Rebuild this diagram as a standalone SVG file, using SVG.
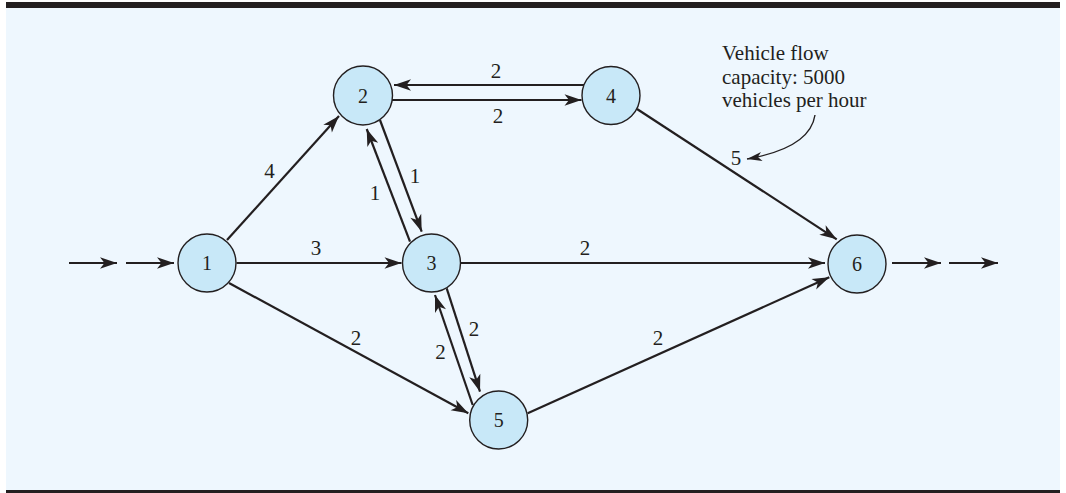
<svg xmlns="http://www.w3.org/2000/svg" width="1066" height="493" viewBox="0 0 1066 493">
<defs>
<style>
.node circle{fill:#c8e8f8;stroke:#231f20;stroke-width:1.4}
.node text{font-family:"Liberation Serif","Times New Roman",serif;font-size:20px;fill:#231f20;text-anchor:middle}
.edge{stroke:#231f20;stroke-width:2.2;fill:none;marker-end:url(#ah)}
.lbl{font-family:"Liberation Serif","Times New Roman",serif;font-size:21px;fill:#231f20;text-anchor:middle}
.note{font-family:"Liberation Serif","Times New Roman",serif;font-size:21px;fill:#231f20}
</style>
<marker id="ah" viewBox="-18 -7 20 14" markerWidth="20" markerHeight="14" refX="0" refY="0" orient="auto" markerUnits="userSpaceOnUse">
<path d="M0,0 L-17,-5.8 L-12.5,0 L-17,5.8 Z" fill="#231f20"/>
</marker>
<marker id="ah2" viewBox="-16 -6 18 12" markerWidth="18" markerHeight="12" refX="0" refY="0" orient="auto" markerUnits="userSpaceOnUse">
<path d="M0,0 L-15,-4.6 L-11,0 L-15,4.6 Z" fill="#231f20"/>
</marker>
</defs>
<rect x="0" y="0" width="1066" height="493" fill="#ffffff"/>
<rect x="6" y="8" width="1054" height="482" fill="#eef7fe"/>
<rect x="6" y="2" width="1054" height="6" fill="#231f20"/>
<rect x="6" y="490" width="1054" height="3" fill="#231f20"/>

<g id="connectors">
<line class="edge" x1="69" y1="263" x2="117" y2="263"/>
<line class="edge" x1="126" y1="263" x2="174" y2="263"/>
<line class="edge" x1="227" y1="240" x2="339" y2="116"/>
<line class="edge" x1="236.5" y1="263" x2="401.5" y2="263"/>
<line class="edge" x1="229" y1="283" x2="468.3" y2="413.3"/>
<line class="edge" x1="584" y1="85" x2="394" y2="85"/>
<line class="edge" x1="392" y1="100" x2="581.5" y2="100"/>
<line class="edge" x1="410" y1="241.7" x2="366.7" y2="129"/>
<line class="edge" x1="380" y1="120" x2="421.7" y2="231.7"/>
<line class="edge" x1="472.7" y1="405" x2="435" y2="295"/>
<line class="edge" x1="446.7" y1="288.3" x2="480" y2="391.7"/>
<line class="edge" x1="460.5" y1="263" x2="825" y2="263"/>
<line class="edge" x1="637" y1="109" x2="836.7" y2="239.3"/>
<line class="edge" x1="527.7" y1="413.3" x2="829.3" y2="277.3"/>
<line class="edge" x1="892" y1="263" x2="941" y2="263"/>
<line class="edge" x1="949" y1="263" x2="998" y2="263"/>
<path d="M815,115 Q810,148 747,159" stroke="#231f20" stroke-width="1.4" fill="none" marker-end="url(#ah2)"/>
</g>

<g id="edge-labels">
<text class="lbl" x="269.5" y="178">4</text>
<text class="lbl" x="316" y="255">3</text>
<text class="lbl" x="585" y="255">2</text>
<text class="lbl" x="496" y="77.5">2</text>
<text class="lbl" x="498" y="122.5">2</text>
<text class="lbl" x="375" y="200">1</text>
<text class="lbl" x="415" y="183">1</text>
<text class="lbl" x="474" y="336">2</text>
<text class="lbl" x="440.5" y="359">2</text>
<text class="lbl" x="356" y="345">2</text>
<text class="lbl" x="658" y="345">2</text>
<text class="lbl" x="736" y="165">5</text>
</g>

<g id="node1" class="node"><circle cx="207" cy="263" r="29"/><text x="207" y="270">1</text></g>
<g id="node2" class="node"><circle cx="363" cy="95.5" r="29.5"/><text x="363" y="103">2</text></g>
<g id="node3" class="node"><circle cx="431.5" cy="263" r="29"/><text x="431.5" y="270">3</text></g>
<g id="node4" class="node"><circle cx="611" cy="95.5" r="29"/><text x="611" y="103">4</text></g>
<g id="node5" class="node"><circle cx="498.7" cy="420" r="29"/><text x="498.7" y="427">5</text></g>
<g id="node6" class="node"><circle cx="857" cy="264" r="29"/><text x="857" y="271">6</text></g>

<g id="annotation">
<text class="note" x="722" y="60">Vehicle flow</text>
<text class="note" x="722" y="83.7">capacity: 5000</text>
<text class="note" x="722" y="107.3">vehicles per hour</text>
</g>
</svg>
